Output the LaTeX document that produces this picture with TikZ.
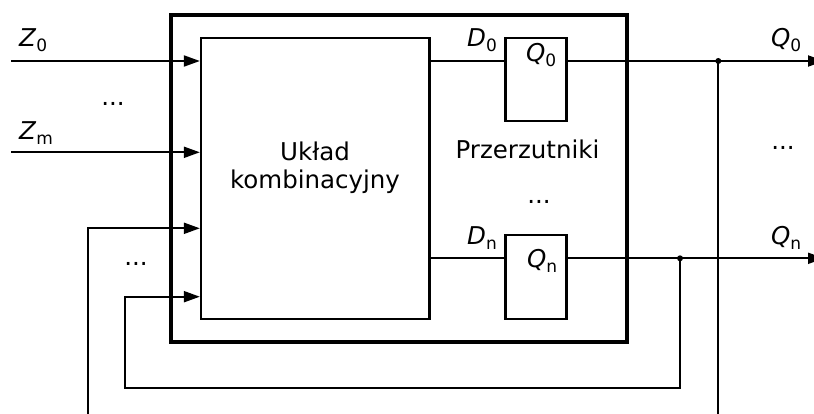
\documentclass[tikz,border=0pt]{standalone}
\usepackage{fontspec}
\setmainfont{DejaVu Sans}
\usetikzlibrary{arrows.meta}
\newcommand\sigl[2]{\textit{#1}\raisebox{-4.5pt}{\fontsize{17}{17}\selectfont #2}}
\begin{document}
\begin{tikzpicture}[x=1pt,y=-1pt,
  font=\fontsize{24.5}{28}\selectfont,
  box/.style={draw, line width=2.3pt, inner sep=0pt},
  sig/.style={line width=2pt},
  arr/.style={sig, -{Triangle[length=16pt,width=11pt]}},
  lbl/.style={inner sep=0pt, anchor=base west},
  dotsn/.style={inner sep=0pt}]
\clip (0,0) rectangle (814,414);
\fill[white] (0,0) rectangle (814,414);

% boxes
\node[draw, line width=3.8pt, minimum width=456pt, minimum height=327pt, inner sep=0pt] (outer) at (399,178.5) {};
\node[box, minimum width=228.5pt, minimum height=281pt] (komb) at (315.25,178.5) {};
\node[align=center, inner sep=0pt] (kombtxt) at (315,168) {Układ\\kombinacyjny};
\node[box, minimum width=61pt, minimum height=83pt] (ff0) at (536,79.5) {};
\node[box, minimum width=61pt, minimum height=84pt] (ffn) at (536,277) {};

% coordinates
\coordinate (r0) at (0,61);
\coordinate (rn) at (0,258.3);
\coordinate (z0) at (11,61);
\coordinate (zm) at (11,152.3);
\coordinate (j0) at (718.3,61);
\coordinate (jn) at (680,258.3);
\coordinate (o0) at (824,61);
\coordinate (on) at (824,258.3);
\coordinate (fb1) at (87.5,228.3);
\coordinate (fb2) at (125,296.7);
\coordinate (lowA) at (0,387.7);
\coordinate (lowB) at (0,440);

% connectors
\draw[arr] (z0) -- (komb.west |- z0);
\draw[arr] (zm) -- (komb.west |- zm);
\draw[sig] (komb.east |- r0) -- (ff0.west |- r0);
\draw[sig] (komb.east |- rn) -- (ffn.west |- rn);
\draw[arr] (ff0.east |- r0) -- (o0);
\draw[arr] (ffn.east |- rn) -- (on);
\draw[arr] (j0) -- (j0 |- lowB) -- (fb1 |- lowB) -- (fb1) -- (komb.west |- fb1);
\draw[arr] (jn) -- (jn |- lowA) -- (fb2 |- lowA) -- (fb2) -- (komb.west |- fb2);
\fill (j0) circle (3pt);
\fill (jn) circle (3pt);

% labels
\node[lbl] (lz0) at (19,47) {\sigl{Z}{0}};
\node[lbl] (lzm) at (19,140) {\sigl{Z}{m}};
\node[lbl] (ld0) at (467,47) {\sigl{D}{0}};
\node[lbl] (ldn) at (467,245) {\sigl{D}{n}};
\node[lbl] (lq0i) at (526,62) {\sigl{Q}{0}};
\node[lbl] (lqni) at (527,268) {\sigl{Q}{n}};
\node[lbl] (lq0o) at (771,47) {\sigl{Q}{0}};
\node[lbl] (lqno) at (771,245) {\sigl{Q}{n}};
\node[inner sep=0pt, anchor=base] (prz) at (527.5,159) {Przerzutniki};

\node[dotsn] (d1) at (113,104) {...};
\node[dotsn] (d2) at (136,264) {...};
\node[dotsn] (d3) at (539,202) {...};
\node[dotsn] (d4) at (783,148) {...};
\end{tikzpicture}
\end{document}
